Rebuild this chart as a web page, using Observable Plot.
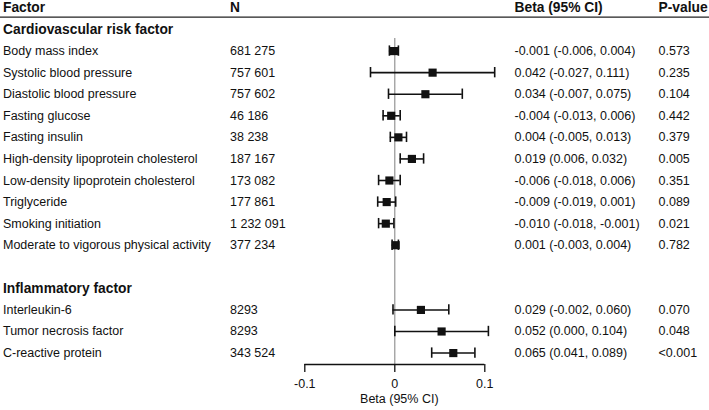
<!DOCTYPE html>
<html><head><meta charset="utf-8">
<script src="https://cdn.jsdelivr.net/npm/d3@7"></script>
<script src="https://cdn.jsdelivr.net/npm/@observablehq/plot@0.6"></script>
<style>
body{margin:0;background:#fff;}
#chart svg{display:block;}
</style>
</head><body><div id="chart"></div>
<script>
// ---- data ----
const groups = ["Cardiovascular risk factor", "Inflammatory factor"];
const factors = [
  "Body mass index", "Systolic blood pressure", "Diastolic blood pressure",
  "Fasting glucose", "Fasting insulin", "High-density lipoprotein cholesterol",
  "Low-density lipoprotein cholesterol", "Triglyceride", "Smoking initiation",
  "Moderate to vigorous physical activity",
  "Interleukin-6", "Tumor necrosis factor", "C-reactive protein"
];
const factorGroup = [0,0,0,0,0,0,0,0,0,0,1,1,1];
const nValues = ["681 275","757 601","757 602","46 186","38 238","187 167","173 082","177 861","1 232 091","377 234","8293","8293","343 524"];
const beta  = [-0.001, 0.042, 0.034, -0.004, 0.004, 0.019, -0.006, -0.009, -0.010, 0.001, 0.029, 0.052, 0.065];
const lower = [-0.006, -0.027, -0.007, -0.013, -0.005, 0.006, -0.018, -0.019, -0.018, -0.003, -0.002, 0.000, 0.041];
const upper = [0.004, 0.111, 0.075, 0.006, 0.013, 0.032, 0.006, 0.001, -0.001, 0.004, 0.060, 0.104, 0.089];
const betaLabels = ["-0.001 (-0.006, 0.004)","0.042 (-0.027, 0.111)","0.034 (-0.007, 0.075)","-0.004 (-0.013, 0.006)","0.004 (-0.005, 0.013)","0.019 (0.006, 0.032)","-0.006 (-0.018, 0.006)","-0.009 (-0.019, 0.001)","-0.010 (-0.018, -0.001)","0.001 (-0.003, 0.004)","0.029 (-0.002, 0.060)","0.052 (0.000, 0.104)","0.065 (0.041, 0.089)"];
const pValues = ["0.573","0.235","0.104","0.442","0.379","0.005","0.351","0.089","0.021","0.782","0.070","0.048","<0.001"];
const columnHeaders = ["Factor","N","Beta (95% CI)","P-value"];
const xTicks = [-0.1, 0, 0.1];
const xLabel = "Beta (95% CI)";

// ---- build rows (row index = vertical slot) ----
const headerRows = [];
const rows = [];
let idx = 0;
groups.forEach((g, gi) => {
  if (gi > 0) idx++; // blank spacer row
  headerRows.push({i: idx, label: g});
  idx++;
  factors.forEach((f, k) => {
    if (factorGroup[k] !== gi) return;
    rows.push({i: idx, label: f, n: nValues[k], beta: beta[k], lo: lower[k], hi: upper[k], ci: betaLabels[k], p: pValues[k]});
    idx++;
  });
});
const colHeaderRow = columnHeaders.map(t => ({i: -1, label: t}));

// ---- layout ----
const W = 709, H = 410;
const mL = 304.3, mR = W - 484.3;
const yTop = -1.345, yBottom = 15.53;
const font = "'Liberation Sans', Arial, Helvetica, sans-serif";
const bodySize = 12.5, boldSize = 13.8;
const ink = "#111";

const colFactor = -(mL - 2.5), colN = -(mL - 229.5), colBeta = 514 - 484.3, colP = 658 - 484.3;

const chart = Plot.plot({
  width: W, height: H,
  marginTop: 0, marginBottom: H - 364, marginLeft: mL, marginRight: mR,
  style: {fontFamily: font, fontSize: bodySize + "px", color: ink, background: "#fff"},
  x: {domain: [-0.1, 0.1], label: null},
  y: {domain: [yTop, yBottom], reverse: true, axis: null},
  marks: [
    // header underline across the full width
    Plot.ruleY([-0.57], {insetLeft: -mL, insetRight: -mR, stroke: "#222", strokeWidth: 1.3}),
    // zero reference line
    Plot.ruleX([{x: 0, y1: 0.42, y2: yBottom}], {x: "x", y1: "y1", y2: "y2", stroke: "#8a8a8a", strokeWidth: 1.1}),
    // axis baseline and ticks
    Plot.ruleY([yBottom], {stroke: ink, strokeWidth: 1.3}),
    Plot.axisX({ticks: xTicks, tickSize: 8, tickPadding: 7, tickFormat: d => String(d), label: null, fontSize: bodySize, strokeWidth: 1.3, stroke: ink, fill: ink}),
    // confidence intervals
    Plot.ruleY(rows, {y: "i", x1: "lo", x2: "hi", stroke: ink, strokeWidth: 1.6}),
    Plot.ruleX(rows, {x: "lo", y1: d => d.i - 0.24, y2: d => d.i + 0.24, stroke: ink, strokeWidth: 1.6}),
    Plot.ruleX(rows, {x: "hi", y1: d => d.i - 0.24, y2: d => d.i + 0.24, stroke: ink, strokeWidth: 1.6}),
    Plot.dot(rows, {x: "beta", y: "i", symbol: "square", r: 4.6, fill: ink, stroke: null}),
    // column headers
    Plot.text(colHeaderRow.slice(0, 1), {y: "i", text: "label", frameAnchor: "left", dx: colFactor, textAnchor: "start", fontWeight: "bold", fontSize: boldSize}),
    Plot.text(colHeaderRow.slice(1, 2), {y: "i", text: "label", frameAnchor: "left", dx: colN, textAnchor: "start", fontWeight: "bold", fontSize: boldSize}),
    Plot.text(colHeaderRow.slice(2, 3), {y: "i", text: "label", frameAnchor: "right", dx: colBeta, textAnchor: "start", fontWeight: "bold", fontSize: boldSize}),
    Plot.text(colHeaderRow.slice(3, 4), {y: "i", text: "label", frameAnchor: "right", dx: colP, textAnchor: "start", fontWeight: "bold", fontSize: boldSize}),
    // group headers
    Plot.text(headerRows, {y: "i", text: "label", frameAnchor: "left", dx: colFactor, textAnchor: "start", fontWeight: "bold", fontSize: boldSize}),
    // table columns
    Plot.text(rows, {y: "i", text: "label", frameAnchor: "left", dx: colFactor, textAnchor: "start", fontSize: bodySize}),
    Plot.text(rows, {y: "i", text: "n", frameAnchor: "left", dx: colN, textAnchor: "start", fontSize: bodySize}),
    Plot.text(rows, {y: "i", text: "ci", frameAnchor: "right", dx: colBeta, textAnchor: "start", fontSize: bodySize}),
    Plot.text(rows, {y: "i", text: "p", frameAnchor: "right", dx: colP, textAnchor: "start", fontSize: bodySize}),
    // axis title
    Plot.text([xLabel], {frameAnchor: "bottom", dy: 38, dx: 4.5, fontSize: bodySize})
  ]
});
document.getElementById("chart").appendChild(chart);
</script>
</body></html>
